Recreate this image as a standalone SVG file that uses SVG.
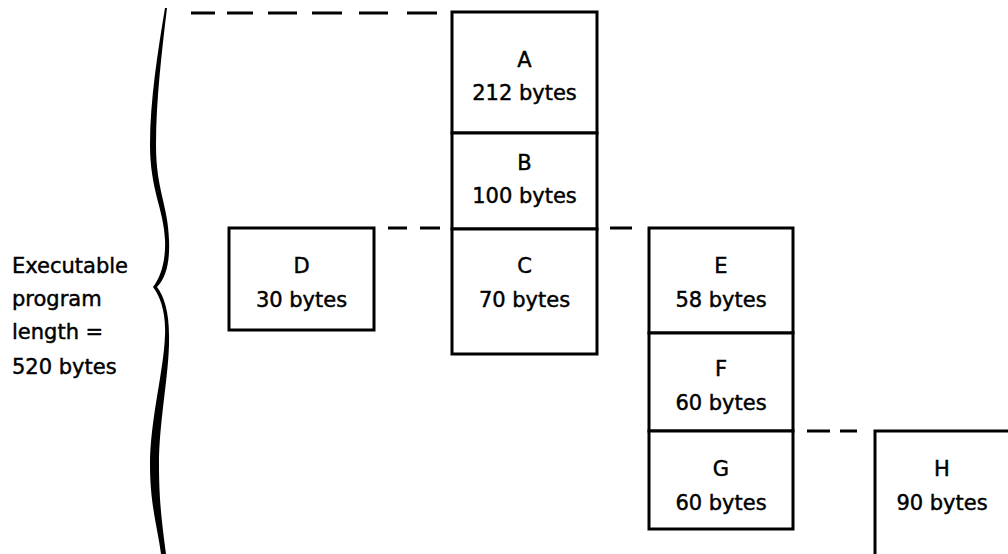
<svg xmlns="http://www.w3.org/2000/svg" width="1008" height="554" viewBox="0 0 1008 554">
  <style>
    .box { fill: #fff; stroke: #000; stroke-width: 3; }
    .dash { stroke: #000; stroke-width: 3; fill: none; }
    text { font-family: "DejaVu Sans", "Liberation Sans", sans-serif; font-size: 21px; fill: #000; stroke: #000; stroke-width: 0.45; }
    .c { text-anchor: middle; }
  </style>
  <rect width="1008" height="554" fill="#fff"/>

  <!-- curly brace spanning the whole program length -->
  <g id="brace" fill="#000">
    <path d="M 165,8 C 158,50 150,100 150,145 C 150,190 164,210 165,240 C 166,262 160,278 153,287 L 157,287 C 166,278 170,262 169,240 C 168,205 156,190 156,145 C 156,100 162,50 167,8 Z"/>
    <path d="M 153,287 C 160,296 166,312 165,335 C 164,370 150,420 150,465 C 150,505 158,530 161,554 L 166,554 C 163,530 159,505 159,465 C 159,420 170,370 169,335 C 169,312 164,296 157,287 Z"/>
  </g>
  <g id="label">
    <text x="12" y="273">Executable</text>
    <text x="12" y="306">program</text>
    <text x="12" y="339">length =</text>
    <text x="12" y="374">520 bytes</text>
  </g>

  <!-- dashed level lines -->
  <g id="connectors" class="dash">
    <path d="M191,13 H215 M227,13 H253 M268,13 H297 M312,13 H342 M359,13 H388 M407,13 H437"/>
    <path d="M388,228 H407 M420,228 H440"/>
    <path d="M610,228 H632"/>
    <path d="M807,431 H830 M840,431 H857"/>
  </g>

  <!-- root segment column -->
  <g id="node-A">
    <rect class="box" x="452" y="12" width="145" height="121"/>
    <text class="c" x="524.5" y="67">A</text>
    <text class="c" x="524.5" y="100">212 bytes</text>
  </g>
  <g id="node-B">
    <rect class="box" x="452" y="133" width="145" height="96"/>
    <text class="c" x="524.5" y="170">B</text>
    <text class="c" x="524.5" y="203">100 bytes</text>
  </g>
  <g id="node-C">
    <rect class="box" x="452" y="229" width="145" height="125"/>
    <text class="c" x="524.5" y="273">C</text>
    <text class="c" x="524.5" y="307">70 bytes</text>
  </g>

  <g id="node-D">
    <rect class="box" x="229" y="228" width="145" height="102"/>
    <text class="c" x="301.5" y="273">D</text>
    <text class="c" x="301.5" y="307">30 bytes</text>
  </g>

  <g id="node-E">
    <rect class="box" x="649" y="228" width="144" height="105"/>
    <text class="c" x="721" y="273">E</text>
    <text class="c" x="721" y="307">58 bytes</text>
  </g>
  <g id="node-F">
    <rect class="box" x="649" y="333" width="144" height="98"/>
    <text class="c" x="721" y="376">F</text>
    <text class="c" x="721" y="410">60 bytes</text>
  </g>
  <g id="node-G">
    <rect class="box" x="649" y="431" width="144" height="98"/>
    <text class="c" x="721" y="476">G</text>
    <text class="c" x="721" y="510">60 bytes</text>
  </g>

  <g id="node-H">
    <rect class="box" x="875" y="431" width="140" height="140"/>
    <text class="c" x="942" y="476">H</text>
    <text class="c" x="942" y="510">90 bytes</text>
  </g>
</svg>
